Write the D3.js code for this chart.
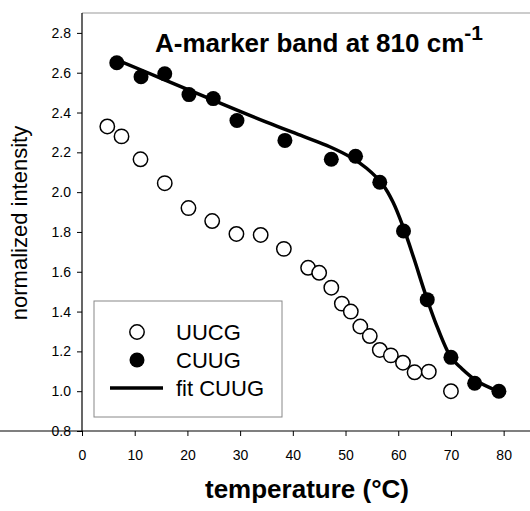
<!DOCTYPE html>
<html>
<head>
<meta charset="utf-8">
<script src="https://cdn.jsdelivr.net/npm/d3@7"></script>
<style>
  body { margin: 0; background: #fff; }
  svg text { font-family: "Liberation Sans", Arial, Helvetica, sans-serif; }
</style>
</head>
<body>
<div id="chart"></div>
<script>
// values
const uucgTemp = [4.8, 7.5, 11.1, 15.7, 20.2, 24.7, 29.3, 33.9, 38.3, 42.9, 45.0, 47.3, 49.3, 51.0, 52.8, 54.6, 56.5, 58.6, 60.9, 63.1, 65.8, 70.0];
const uucgVal  = [2.33, 2.28, 2.165, 2.045, 1.92, 1.855, 1.79, 1.785, 1.715, 1.62, 1.595, 1.52, 1.44, 1.40, 1.325, 1.277, 1.207, 1.18, 1.143, 1.095, 1.098, 1.0];

const cuugTemp = [6.6, 11.2, 15.7, 20.3, 24.9, 29.4, 38.5, 47.3, 51.9, 56.5, 61.0, 65.5, 70.0, 74.5, 79.1];
const cuugVal  = [2.65, 2.58, 2.595, 2.49, 2.47, 2.36, 2.26, 2.165, 2.18, 2.05, 1.805, 1.46, 1.17, 1.04, 1.0];

const fitTemp = [6.6, 15, 25, 35, 42, 47, 51, 54, 57, 59, 61, 63, 65, 67, 70, 72, 75, 79.1];
const fitVal  = [2.665, 2.572, 2.461, 2.352, 2.28, 2.228, 2.175, 2.12, 2.04, 1.95, 1.82, 1.665, 1.50, 1.35, 1.17, 1.115, 1.05, 0.998];

const xTicks = [0, 10, 20, 30, 40, 50, 60, 70, 80];
const yTicks = [0.8, 1.0, 1.2, 1.4, 1.6, 1.8, 2.0, 2.2, 2.4, 2.6, 2.8];
const legendLabels = ["UUCG", "CUUG", "fit CUUG"];

const W = 530, H = 511;
const svg = d3.select("#chart").append("svg")
  .attr("width", W).attr("height", H);

const x = d3.scaleLinear().domain([0, 85]).range([82, 530]);
const y = d3.scaleLinear().domain([0.8, 2.9]).range([431, 13]);

// top frame line
svg.append("line")
  .attr("x1", x(0)).attr("x2", x(85))
  .attr("y1", y(2.9)).attr("y2", y(2.9))
  .attr("stroke", "#999").attr("stroke-width", 1);

const xAxis = svg.append("g")
  .attr("transform", `translate(0,${y(0.8)})`)
  .call(d3.axisBottom(x).tickValues(xTicks).tickSize(5).tickPadding(14).tickSizeOuter(0));
const yAxis = svg.append("g")
  .attr("transform", `translate(${x(0)},0)`)
  .call(d3.axisLeft(y).tickValues(yTicks).tickFormat(d3.format(".1f")).tickSize(5).tickPadding(6).tickSizeOuter(0));

[xAxis, yAxis].forEach(a => {
  a.attr("font-size", 14);
  a.select(".domain").attr("stroke", "#000").attr("stroke-width", 1.2);
  a.selectAll(".tick line").attr("stroke", "#000");
  a.selectAll(".tick text").attr("font-size", 14).attr("fill", "#000")
    .style("font-family", "'Liberation Sans', Arial, sans-serif");
});
// extend axis lines to the frame edges
yAxis.select(".domain").attr("d", `M0,${y(0.8)}V${y(2.9)}`);
xAxis.select(".domain").attr("d", `M0,0H${x(85)}`);

// fit line
const fitData = fitTemp.map((t, i) => [t, fitVal[i]]);
svg.append("path")
  .datum(fitData)
  .attr("fill", "none")
  .attr("stroke", "#000")
  .attr("stroke-width", 3.5)
  .attr("d", d3.line().x(d => x(d[0])).y(d => y(d[1])).curve(d3.curveCatmullRom));

// UUCG open circles
svg.append("g").selectAll("circle")
  .data(uucgTemp.map((t, i) => [t, uucgVal[i]]))
  .join("circle")
  .attr("cx", d => x(d[0])).attr("cy", d => y(d[1]))
  .attr("r", 7.2)
  .attr("fill", "#fff").attr("stroke", "#000").attr("stroke-width", 1.5);

// CUUG filled circles
svg.append("g").selectAll("circle")
  .data(cuugTemp.map((t, i) => [t, cuugVal[i]]))
  .join("circle")
  .attr("cx", d => x(d[0])).attr("cy", d => y(d[1]))
  .attr("r", 7.5)
  .attr("fill", "#000");

// title
const title = svg.append("text")
  .attr("x", 155).attr("y", 52)
  .attr("font-size", 26).attr("font-weight", "bold");
title.append("tspan").text("A-marker band at 810 cm");
title.append("tspan").attr("dy", -12).attr("font-size", 21).text("-1");

// axis labels
svg.append("text")
  .attr("x", 307).attr("y", 498)
  .attr("text-anchor", "middle")
  .attr("font-size", 26).attr("font-weight", "bold")
  .text("temperature (°C)");

svg.append("text")
  .attr("transform", `translate(27,${223}) rotate(-90)`)
  .attr("text-anchor", "middle")
  .attr("font-size", 22)
  .text("normalized intensity");

// legend
const lg = svg.append("g");
lg.append("rect")
  .attr("x", 94).attr("y", 301).attr("width", 188).attr("height", 116)
  .attr("fill", "#fff").attr("stroke", "#888").attr("stroke-width", 1);
const rowY = [332, 360, 388];
lg.append("circle").attr("cx", 137).attr("cy", rowY[0]).attr("r", 7.2)
  .attr("fill", "#fff").attr("stroke", "#000").attr("stroke-width", 1.5);
lg.append("circle").attr("cx", 137).attr("cy", rowY[1]).attr("r", 7.5).attr("fill", "#000");
lg.append("line").attr("x1", 110).attr("x2", 163).attr("y1", rowY[2]).attr("y2", rowY[2])
  .attr("stroke", "#000").attr("stroke-width", 3.5);
lg.selectAll("text.lab")
  .data(legendLabels)
  .join("text")
  .attr("class", "lab")
  .attr("x", 176).attr("y", (d, i) => rowY[i] + 8)
  .attr("font-size", 22)
  .text(d => d);
</script>
</body>
</html>
